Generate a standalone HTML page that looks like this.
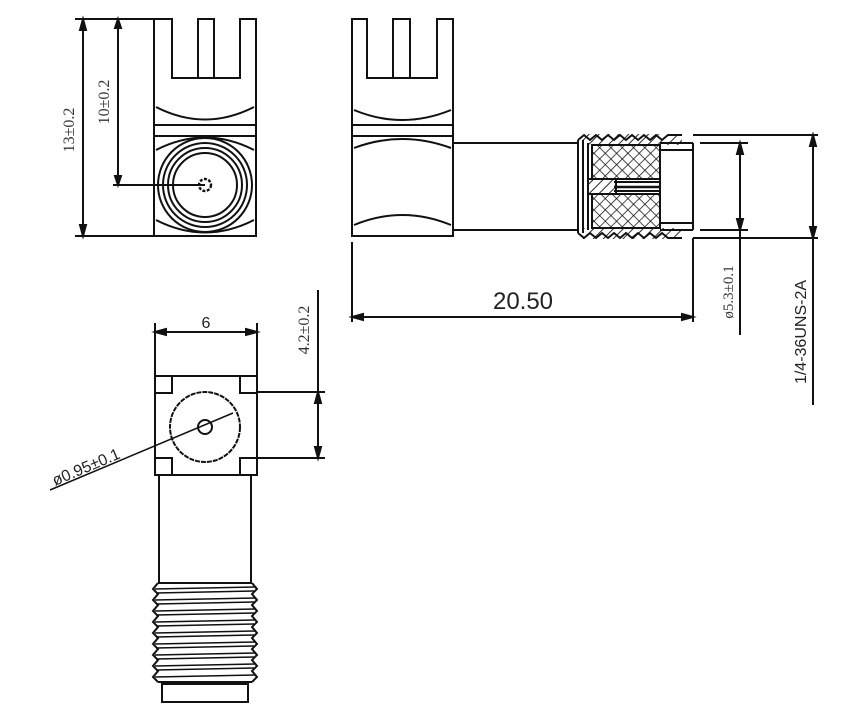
<!DOCTYPE html>
<html><head><meta charset="utf-8"><style>html,body{margin:0;padding:0;background:#fff}svg{display:block}</style></head>
<body>
<svg width="858" height="709" viewBox="0 0 858 709" xmlns="http://www.w3.org/2000/svg" fill="none" stroke="#111" stroke-width="2">
<defs>
<pattern id="h1" width="7" height="7" patternUnits="userSpaceOnUse" patternTransform="rotate(45)"><line x1="0" y1="0" x2="0" y2="7" stroke="#111" stroke-width="1.8"/></pattern>
<pattern id="hx" width="8" height="8" patternUnits="userSpaceOnUse" patternTransform="rotate(45)"><line x1="0" y1="0" x2="0" y2="8" stroke="#111" stroke-width="1.5"/><line x1="0" y1="0" x2="8" y2="0" stroke="#111" stroke-width="1.5"/></pattern>
</defs>

<!-- TOP LEFT VIEW -->
<path d="M154,19 H172 V78 H240 V19 H256 V236 H154 Z"/>
<rect x="198" y="19" width="16" height="59"/>
<line x1="154" y1="125" x2="256" y2="125"/>
<line x1="154" y1="136" x2="256" y2="136"/>
<path d="M156,107 Q205,132 254,107"/>
<path d="M156,150 Q205,125 254,150"/>
<path d="M156,220 Q205,245 254,220"/>
<circle cx="205" cy="185" r="47"/>
<circle cx="205" cy="185" r="42"/>
<circle cx="205" cy="185" r="37"/>
<circle cx="205" cy="185" r="32"/>
<circle cx="205" cy="185" r="6" stroke-width="2.4" stroke-dasharray="3 1.5"/>
<!-- dims -->
<line x1="75" y1="19" x2="154" y2="19"/>
<line x1="75" y1="236" x2="154" y2="236"/>
<line x1="83" y1="19" x2="83" y2="236"/>
<path d="M80,30 L83,19 L86,30Z M80,225 L83,236 L86,225Z" fill="#111"/>
<line x1="118" y1="19" x2="118" y2="185"/>
<line x1="113" y1="185" x2="205" y2="185"/>
<path d="M115,28 L118,19 L121,28Z M115,176 L118,185 L121,176Z" fill="#111"/>
<text x="74" y="130" transform="rotate(-90 74 130)" font-family="Liberation Serif, serif" font-size="16" fill="#333" stroke="none" text-anchor="middle">13±0.2</text>
<text x="109" y="102" transform="rotate(-90 109 102)" font-family="Liberation Serif, serif" font-size="16" fill="#333" stroke="none" text-anchor="middle">10±0.2</text>

<!-- SIDE VIEW -->
<path d="M352,19 H367 V78 H437 V19 H453 V236 H352 Z"/>
<rect x="393" y="19" width="17" height="59"/>
<line x1="352" y1="125" x2="453" y2="125"/>
<line x1="352" y1="136" x2="453" y2="136"/>
<path d="M354,110 Q402,130 451,110"/>
<path d="M354,148 Q402,130 451,148"/>
<path d="M354,225 Q402,205 451,225"/>
<rect x="453" y="143" width="125" height="87"/>
<!-- threaded part -->
<rect x="582" y="134" width="100" height="11" fill="url(#h1)" stroke="none"/>
<rect x="582" y="228" width="100" height="11" fill="url(#h1)" stroke="none"/>
<path d="M578,140 L584,135 L590,140 L596,135 L602,140 L608,135 L614,140 L620,135 L626,140 L632,135 L638,140 L644,135 L650,140 L656,135 L662,140 L668,135 L682,135"/>
<path d="M578,233 L584,238 L590,233 L596,238 L602,233 L608,238 L614,233 L620,238 L626,233 L632,238 L638,233 L644,238 L650,233 L656,238 L662,233 L668,238 L682,238"/>
<line x1="578" y1="140" x2="578" y2="233"/>
<line x1="583" y1="140" x2="583" y2="233"/>
<line x1="588" y1="143" x2="588" y2="230"/>
<rect x="592" y="145" width="68" height="34" fill="url(#hx)"/>
<rect x="592" y="194" width="68" height="34" fill="url(#hx)"/>
<rect x="588" y="179" width="28" height="15" fill="url(#h1)"/>
<line x1="614" y1="182" x2="660" y2="182"/>
<line x1="614" y1="187" x2="660" y2="187" stroke-width="2.6"/>
<line x1="614" y1="191" x2="660" y2="191"/>
<rect x="660" y="150" width="33" height="73" fill="#fff"/>
<line x1="660" y1="143" x2="693" y2="143"/>
<line x1="660" y1="230" x2="693" y2="230"/>
<line x1="693" y1="143" x2="693" y2="230"/>
<!-- dims side -->
<line x1="693" y1="135" x2="818" y2="135"/>
<line x1="693" y1="238" x2="818" y2="238"/>
<line x1="813" y1="135" x2="813" y2="405"/>
<path d="M810,146 L813,135 L816,146Z M810,227 L813,238 L816,227Z" fill="#111"/>
<line x1="700" y1="143" x2="748" y2="143"/>
<line x1="700" y1="230" x2="748" y2="230"/>
<line x1="740" y1="143" x2="740" y2="335"/>
<path d="M737,154 L740,143 L743,154Z M737,219 L740,230 L743,219Z" fill="#111"/>
<text x="733" y="292" transform="rotate(-90 733 292)" font-family="Liberation Serif, serif" font-size="15" fill="#333" stroke="none" text-anchor="middle">ø5.3±0.1</text>
<text x="806" y="332" transform="rotate(-90 806 332)" font-family="Liberation Sans, sans-serif" font-size="16" fill="#222" stroke="none" text-anchor="middle">1/4-36UNS-2A</text>
<line x1="352" y1="242" x2="352" y2="322"/>
<line x1="693" y1="238" x2="693" y2="322"/>
<line x1="352" y1="317" x2="693" y2="317"/>
<path d="M363,314 L352,317 L363,320Z M682,314 L693,317 L682,320Z" fill="#111"/>
<text x="523" y="309" font-family="Liberation Sans, sans-serif" font-size="24" fill="#222" stroke="none" text-anchor="middle">20.50</text>

<!-- BOTTOM VIEW -->
<line x1="155" y1="323" x2="155" y2="376"/>
<line x1="257" y1="323" x2="257" y2="376"/>
<line x1="155" y1="332" x2="257" y2="332"/>
<path d="M166,329 L155,332 L166,335Z M246,329 L257,332 L246,335Z" fill="#111"/>
<text x="206" y="328" font-family="Liberation Sans, sans-serif" font-size="16" fill="#222" stroke="none" text-anchor="middle">6</text>
<rect x="155" y="376" width="102" height="99"/>
<path d="M155,393 H172 V376 M240,376 V393 H257 M155,458 H172 V475 M240,475 V458 H257"/>
<circle cx="205" cy="427" r="35" stroke-dasharray="5 1"/>
<circle cx="205" cy="427" r="7"/>
<line x1="50" y1="490" x2="233" y2="413" stroke-width="1.5"/>
<text x="55" y="486" transform="rotate(-23 55 486)" font-family="Liberation Sans, sans-serif" font-size="16" fill="#222" stroke="none">ø0.95±0.1</text>
<line x1="257" y1="392" x2="325" y2="392"/>
<line x1="257" y1="458" x2="325" y2="458"/>
<line x1="318" y1="290" x2="318" y2="458"/>
<path d="M315,403 L318,392 L321,403Z M315,447 L318,458 L321,447Z" fill="#111"/>
<text x="309" y="330" transform="rotate(-90 309 330)" font-family="Liberation Serif, serif" font-size="16" fill="#333" stroke="none" text-anchor="middle">4.2±0.2</text>
<rect x="159" y="475" width="92" height="108"/>
<!-- threads -->
<path d="M158,583 L153,589 L158,594 L153,600 L158,605 L153,611 L158,616 L153,622 L158,627 L153,633 L158,638 L153,644 L158,649 L153,655 L158,660 L153,666 L158,671 L153,677 L158,682"/>
<path d="M252,583 L257,589 L252,594 L257,600 L252,605 L257,611 L252,616 L257,622 L252,627 L257,633 L252,638 L257,644 L252,649 L257,655 L252,660 L257,666 L252,671 L257,677 L252,682"/>
<line x1="158" y1="583" x2="252" y2="583"/>
<g stroke-width="1.6">
<line x1="155" y1="589" x2="255" y2="587"/><line x1="156" y1="593" x2="254" y2="591"/>
<line x1="155" y1="600" x2="255" y2="598"/><line x1="156" y1="604" x2="254" y2="602"/>
<line x1="155" y1="611" x2="255" y2="609"/><line x1="156" y1="615" x2="254" y2="613"/>
<line x1="155" y1="622" x2="255" y2="620"/><line x1="156" y1="626" x2="254" y2="624"/>
<line x1="155" y1="633" x2="255" y2="631"/><line x1="156" y1="637" x2="254" y2="635"/>
<line x1="155" y1="644" x2="255" y2="642"/><line x1="156" y1="648" x2="254" y2="646"/>
<line x1="155" y1="655" x2="255" y2="653"/><line x1="156" y1="659" x2="254" y2="657"/>
<line x1="155" y1="666" x2="255" y2="664"/><line x1="156" y1="670" x2="254" y2="668"/>
<line x1="155" y1="677" x2="255" y2="675"/>
</g>
<line x1="158" y1="682" x2="252" y2="682"/>
<rect x="162" y="684" width="86" height="18"/>
</svg>
</body></html>
